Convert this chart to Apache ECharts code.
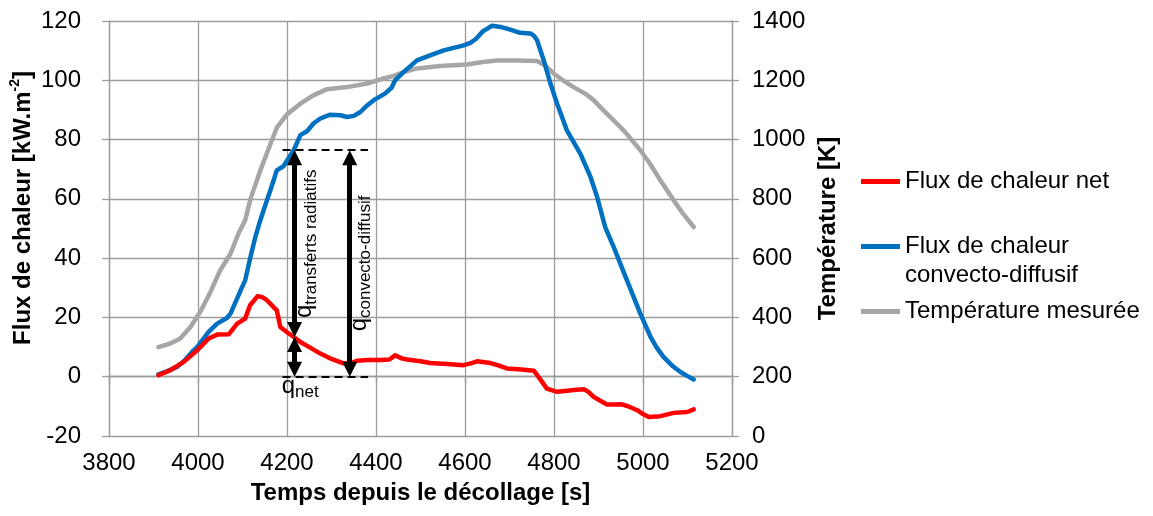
<!DOCTYPE html>
<html><head><meta charset="utf-8">
<script src="https://cdn.jsdelivr.net/npm/echarts@6/dist/echarts.min.js"></script>
<style>html,body{margin:0;padding:0;background:#fff}#c{width:1153px;height:516px}</style>
</head><body><div id="c"></div>
<script>
// ---- data ----
const netT = [3911,3938,3968,3998,4024,4043,4069,4088,4106,4117,4134,4145,4155,4177,4185,4200,4207,4230,4252,4275,4300,4327,4345,4357,4380,4410,4430,4443,4458,4470,4500,4522,4560,4597,4615,4627,4657,4675,4694,4720,4743,4755,4762,4772,4784,4807,4830,4844,4867,4878,4889,4905,4919,4935,4953,4970,4987,5000,5013,5039,5069,5099,5114];
const netV = [0.5,2.2,5.0,8.9,12.9,14.2,14.3,17.9,19.6,24.1,27.2,26.8,25.8,22.4,16.8,15.0,14.3,11.7,9.8,7.8,6.0,4.5,4.6,5.4,5.6,5.6,5.8,7.2,6.2,5.8,5.2,4.6,4.3,3.9,4.6,5.2,4.6,3.8,2.8,2.5,2.2,2.0,0.6,-1.5,-4.0,-5.1,-4.7,-4.5,-4.2,-5.2,-6.8,-8.2,-9.4,-9.4,-9.3,-10.2,-11.3,-12.6,-13.6,-13.3,-12.2,-11.9,-11.0];

const convT = [3911,3930,3953,3970,3990,3998,4024,4043,4065,4073,4088,4096,4106,4118,4129,4140,4155,4170,4177,4192,4215,4230,4245,4260,4275,4297,4320,4335,4350,4365,4380,4395,4420,4435,4443,4460,4492,4520,4552,4597,4612,4625,4640,4661,4680,4702,4724,4747,4755,4762,4777,4792,4807,4829,4859,4882,4897,4915,4934,4964,4994,5017,5030,5046,5065,5084,5100,5114];
const convV = [0.8,1.8,3.3,5.5,8.9,10.0,15.1,17.9,19.8,21.3,26.4,29.2,32.5,40.5,47.2,52.8,59.5,66.3,69.6,71.0,76.4,81.5,82.8,85.5,87.1,88.4,88.2,87.6,88.0,89.3,91.5,93.3,95.5,97.5,100.0,102.5,106.7,108.3,110.1,111.8,112.6,114.0,116.5,118.4,118.0,117.1,116.0,115.8,115.0,113.5,106.7,98.9,92.1,83.1,75.3,67.4,60.6,50.5,43.8,32.5,21.3,13.4,10.0,6.7,3.8,1.6,0.2,-0.9];

const tempT = [3911,3938,3960,3983,4005,4028,4050,4073,4091,4106,4118,4140,4163,4177,4200,4230,4260,4290,4335,4380,4417,4440,4462,4492,4544,4604,4640,4672,4720,4762,4780,4799,4820,4844,4870,4889,4910,4934,4960,4994,5015,5039,5069,5090,5114];
const tempV = [300,312,329,368,418,486,559,615,683,728,800,896,986,1040,1085,1121,1150,1170,1177,1189,1206,1215,1228,1240,1248,1253,1262,1267,1267,1265,1250,1223,1200,1177,1155,1133,1100,1065,1025,964,920,863,795,750,705];

const seriesNames = ['Flux de chaleur net', 'Flux de chaleur convecto-diffusif', 'Température mesurée'];
const xRange = [3800, 5200, 200];
const fluxRange = [-20, 120, 20];
const tempRange = [0, 1400, 200];

// annotation geometry in data units
const dashLevels = [76.4, 0];
const dashSpan = [4190, 4382];
const arrowDefs = [[4217, 76.4, 13.4], [4217, 13.4, 0], [4341, 76.4, 0]]; // x, top tip, bottom tip
const qLabels = [
  {sub: 'transferts radiatifs', t: 4239, v: 19.8, rot: true},
  {sub: 'convecto-diffusif', t: 4362, v: 15.3, rot: true},
  {sub: 'net', t: 4188, v: -3.1, rot: false}
];

// ---- chart ----
const F = "'Liberation Sans', Arial, sans-serif";
const GRID = '#9c9c9c';
const zip = (a, b) => a.map((x, i) => [x, b[i]]);
const inset = 2.53;
const plain = v => String(v);

const markData = [];
dashLevels.forEach(y => {
  markData.push([
    {coord: [dashSpan[0], y], symbol: 'none', lineStyle: {type: [8, 5], width: 2, color: '#000'}},
    {coord: [dashSpan[1], y], symbol: 'none'}
  ]);
});
arrowDefs.forEach(a => {
  markData.push([
    {coord: [a[0], a[1] - inset], symbol: 'triangle', symbolSize: [15, 15], lineStyle: {type: 'solid', width: 5, color: '#000'}},
    {coord: [a[0], a[2] + inset], symbol: 'triangle', symbolSize: [15, 15]}
  ]);
});

const chart = echarts.init(document.getElementById('c'), null, {renderer: 'canvas'});
const axisCommon = {
  axisLine: {show: true, lineStyle: {color: GRID, width: 1.3}},
  axisTick: {show: true, inside: false, length: 7, lineStyle: {color: GRID, width: 1.3}},
  axisLabel: {color: '#000', fontSize: 24, fontFamily: F, formatter: plain},
};
const option = {
  animation: false,
  textStyle: {fontFamily: F},
  grid: {left: 109, top: 21, width: 623, height: 415, containLabel: false, outerBoundsMode: 'none'},
  legend: {
    orient: 'vertical', left: 861, top: 167, padding: 0, itemGap: 7,
    itemWidth: 39, itemHeight: 5, icon: 'rect', selectedMode: false,
    textStyle: {fontSize: 24, lineHeight: 29, color: '#000', fontFamily: F},
    data: seriesNames.map(n => ({name: n})),
    formatter: n => n === seriesNames[1] ? ' \nFlux de chaleur\nconvecto-diffusif' : n
  },
  xAxis: Object.assign({}, axisCommon, {
    type: 'value', min: xRange[0], max: xRange[1], interval: xRange[2],
    axisLabel: Object.assign({}, axisCommon.axisLabel, {margin: 15, showMinLabel: true, showMaxLabel: true}),
    splitLine: {show: true, lineStyle: {color: GRID, width: 1.3}},
    name: 'Temps depuis le décollage [s]', nameLocation: 'middle', nameGap: 45, nameMoveOverlap: false,
    nameTextStyle: {fontSize: 24, fontWeight: 'bold', color: '#000', fontFamily: F}
  }),
  yAxis: [
    Object.assign({}, axisCommon, {
      type: 'value', min: fluxRange[0], max: fluxRange[1], interval: fluxRange[2], position: 'left',
      axisLabel: Object.assign({}, axisCommon.axisLabel, {margin: 28}),
      splitLine: {show: true, lineStyle: {color: GRID, width: 1.3}},
      name: '{a|Flux de chaleur [kW.m}{s|-2}{a|]}', nameLocation: 'middle', nameGap: 71, nameRotate: 90,
      nameMoveOverlap: false,
      nameTextStyle: {padding: [0, 0, 0, 41], rich: {
        a: {fontSize: 24, fontWeight: 'bold', color: '#000', fontFamily: F, lineHeight: 30},
        s: {fontSize: 14, fontWeight: 'bold', color: '#000', fontFamily: F, lineHeight: 14, verticalAlign: 'top'}
      }}
    }),
    Object.assign({}, axisCommon, {
      type: 'value', min: tempRange[0], max: tempRange[1], interval: tempRange[2], position: 'right',
      axisLabel: Object.assign({}, axisCommon.axisLabel, {margin: 20}),
      splitLine: {show: false},
      name: 'Température [K]', nameLocation: 'middle', nameGap: 84, nameRotate: 90, nameMoveOverlap: false,
      nameTextStyle: {fontSize: 24, fontWeight: 'bold', color: '#000', fontFamily: F}
    })
  ],
  series: [
    {name: seriesNames[2], type: 'line', yAxisIndex: 1, data: zip(tempT, tempV), symbol: 'none', silent: true,
     itemStyle: {color: '#a6a6a6'}, lineStyle: {width: 4.5, color: '#a6a6a6', cap: 'round', join: 'round'}},
    {name: seriesNames[1], type: 'line', yAxisIndex: 0, data: zip(convT, convV), symbol: 'none', silent: true,
     itemStyle: {color: '#0070c0'}, lineStyle: {width: 4.5, color: '#0070c0', cap: 'round', join: 'round'}},
    {name: seriesNames[0], type: 'line', yAxisIndex: 0, data: zip(netT, netV), symbol: 'none', silent: true,
     itemStyle: {color: '#ff0000'}, lineStyle: {width: 4.5, color: '#ff0000', cap: 'round', join: 'round'},
     markLine: {silent: true, animation: false, symbol: ['none', 'none'], label: {show: false},
       itemStyle: {color: '#000'}, emphasis: {disabled: true}, data: markData}}
  ]
};
chart.setOption(option);

const graphics = qLabels.map(l => {
  const p = chart.convertToPixel({xAxisIndex: 0, yAxisIndex: 0}, [l.t, l.v]);
  return {
    type: 'text', x: p[0], y: p[1], rotation: l.rot ? Math.PI / 2 : 0, silent: true, z: 100,
    style: {
      text: '{q|q}{s|' + l.sub + '}', align: 'left', verticalAlign: 'middle',
      rich: {
        q: {fontSize: 24, lineHeight: 30, fill: '#000', fontFamily: F},
        s: {fontSize: 17, lineHeight: 7, verticalAlign: 'bottom', fill: '#000', fontFamily: F}
      }
    }
  };
});
chart.setOption({graphic: graphics});
</script></body></html>
